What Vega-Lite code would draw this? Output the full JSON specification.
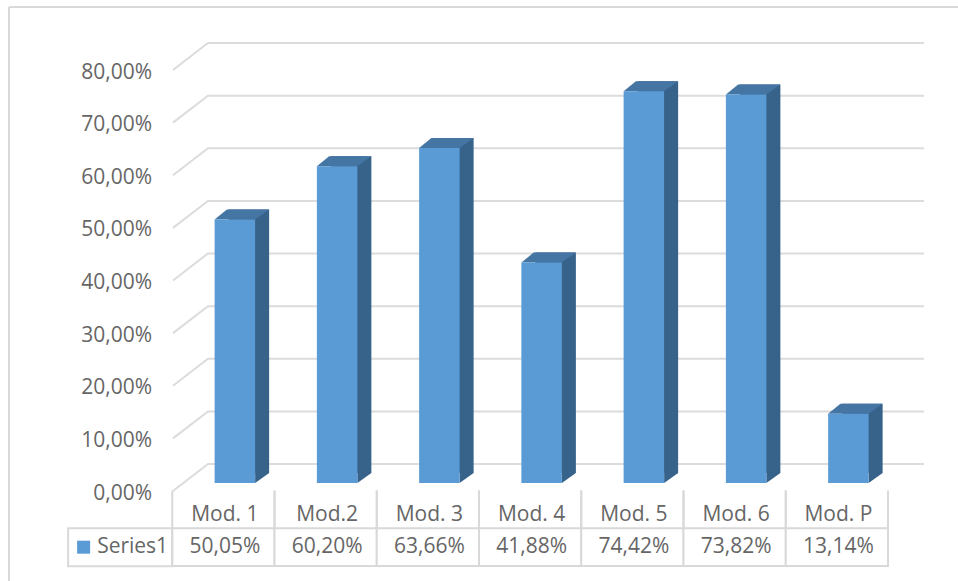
{
"$schema":"https://vega.github.io/schema/vega-lite/v6.json",
"width":949,"height":574,"padding":{"left":9,"top":7,"right":0,"bottom":0},"autosize":{"type":"none"},
"background":"white",
"config":{"view":{"stroke":null}},
"datasets":{
"mods":[{"mod":"Mod. 1","value":50.05,"label":"50,05%"},{"mod":"Mod.2","value":60.20,"label":"60,20%"},{"mod":"Mod. 3","value":63.66,"label":"63,66%"},{"mod":"Mod. 4","value":41.88,"label":"41,88%"},{"mod":"Mod. 5","value":74.42,"label":"74,42%"},{"mod":"Mod. 6","value":73.82,"label":"73,82%"},{"mod":"Mod. P","value":13.14,"label":"13,14%"}],
"ticks":[{"tick":0,"label":"0,00%"},{"tick":10,"label":"10,00%"},{"tick":20,"label":"20,00%"},{"tick":30,"label":"30,00%"},{"tick":40,"label":"40,00%"},{"tick":50,"label":"50,00%"},{"tick":60,"label":"60,00%"},{"tick":70,"label":"70,00%"},{"tick":80,"label":"80,00%"}],
"legend":[{"series":"Series1"}],
"frame":[{"a":0,"b":1}]
},
"layer":[
{"data":{"name":"frame"},
 "encoding":{},
 "layer":[
 {"mark":{"type":"rule","color":"#d9d9d9","strokeWidth":2},"encoding":{"x":{"field":"a","type":"quantitative","scale":{"domain":[0,1],"nice":false},"axis":null},"y":{"field":"a","type":"quantitative","scale":{"domain":[0,1],"nice":false},"axis":null},"y2":{"field":"b"}}},
 {"mark":{"type":"rule","color":"#d9d9d9","strokeWidth":2},"encoding":{"x":{"field":"a","type":"quantitative","axis":null},"x2":{"field":"b"},"y":{"field":"b","type":"quantitative","axis":null}}}
]},
{"encoding":{
  "x":{"field":"mod","type":"nominal","axis":null,"sort":null,"scale":{"domain":["Series1","Mod. 1","Mod.2","Mod. 3","Mod. 4","Mod. 5","Mod. 6","Mod. P"],"range":[61,879],"padding":0}}
 },
 "layer":[
 {"data":{"name":"ticks"},"mark":{"type":"point","shape":"M-50.4,8L-15.4,-19L700.6,-19","size":4,"filled":false,"stroke":"#dcdcdc","strokeWidth":2,"opacity":1},
  "encoding":{"x":{"datum":"Mod. 1","type":"nominal"},"y":{"field":"tick","type":"quantitative","axis":null,"scale":{"domain":[0,80],"range":[476,55],"nice":false,"zero":false}}}},
 {"data":{"name":"ticks"},"mark":{"type":"text","align":"right","baseline":"middle","xOffset":31,"yOffset":10.5,"font":"Open Sans","fontSize":21,"color":"#666666"},
  "encoding":{"x":{"datum":"Series1","type":"nominal"},"y":{"field":"tick","type":"quantitative","axis":null},"text":{"field":"label"}}},
 {"data":{"name":"mods"},"mark":{"type":"bar","size":40.5,"color":"#37628a","xOffset":25.5,"yOffset":-10},
  "encoding":{"y":{"field":"value","type":"quantitative","axis":null}}},
 {"data":{"name":"mods"},"mark":{"type":"point","shape":"M20.25,0L34.25,-10L20.25,-10Z","size":4,"filled":true,"color":"#37628a","opacity":1,"xOffset":11.5},
  "encoding":{"y":{"datum":0,"type":"quantitative","axis":null}}},
 {"data":{"name":"mods"},"mark":{"type":"point","shape":"M-20.25,0L-8,-10L34.25,-10L20.25,0Z","size":4,"filled":true,"color":"#4475a3","opacity":1,"xOffset":11.5},
  "encoding":{"y":{"field":"value","type":"quantitative","axis":null}}},
 {"data":{"name":"mods"},"mark":{"type":"bar","size":40.5,"color":"#5b9bd5","xOffset":11.5},
  "encoding":{"y":{"field":"value","type":"quantitative","axis":null}}}
]},
{"encoding":{
  "x":{"field":"mod","type":"nominal","axis":null,"sort":null,"scale":{"domain":["Series1","Mod. 1","Mod.2","Mod. 3","Mod. 4","Mod. 5","Mod. 6","Mod. P"],"range":[61,879],"padding":0}},
  "y":{"datum":"values","type":"nominal","axis":null,"scale":{"domain":["header","values"],"range":[483.7,559],"padding":0}}
 },
 "layer":[
 {"data":{"name":"mods"},"mark":{"type":"rect","fill":"white","stroke":"#d9d9d9","strokeWidth":2}},
 {"data":{"name":"legend"},"mark":{"type":"point","shape":"M-53,-19H51.1V19H-53Z","size":4,"filled":false,"stroke":"#d9d9d9","strokeWidth":2,"opacity":1},
  "encoding":{"x":{"field":"series","type":"nominal"}}},
 {"data":{"name":"mods"},"mark":{"type":"point","shape":"M-51.1,-19V19M51.1,-19V19","size":4,"filled":false,"stroke":"#d9d9d9","strokeWidth":2,"opacity":1},
  "encoding":{"y":{"datum":"header","type":"nominal"}}},
 {"data":{"name":"mods"},"mark":{"type":"text","baseline":"middle","xOffset":1.5,"yOffset":5,"font":"Open Sans","fontSize":21,"color":"#666666"},
  "encoding":{"y":{"datum":"header","type":"nominal"},"text":{"field":"mod"}}},
 {"data":{"name":"mods"},"mark":{"type":"text","baseline":"middle","xOffset":1.5,"font":"Open Sans","fontSize":21,"color":"#666666"},
  "encoding":{"text":{"field":"label"}}},
 {"data":{"name":"legend"},"mark":{"type":"point","shape":"square","size":169,"filled":true,"color":"#5b9bd5","opacity":1,"xOffset":-37.5},
  "encoding":{"x":{"field":"series","type":"nominal"}}},
 {"data":{"name":"legend"},"mark":{"type":"text","align":"left","baseline":"middle","xOffset":-24,"font":"Open Sans","fontSize":21,"color":"#666666"},
  "encoding":{"x":{"field":"series","type":"nominal"},"text":{"field":"series"}}}
]}
],
"resolve":{"scale":{"x":"independent","y":"independent"}}
}
